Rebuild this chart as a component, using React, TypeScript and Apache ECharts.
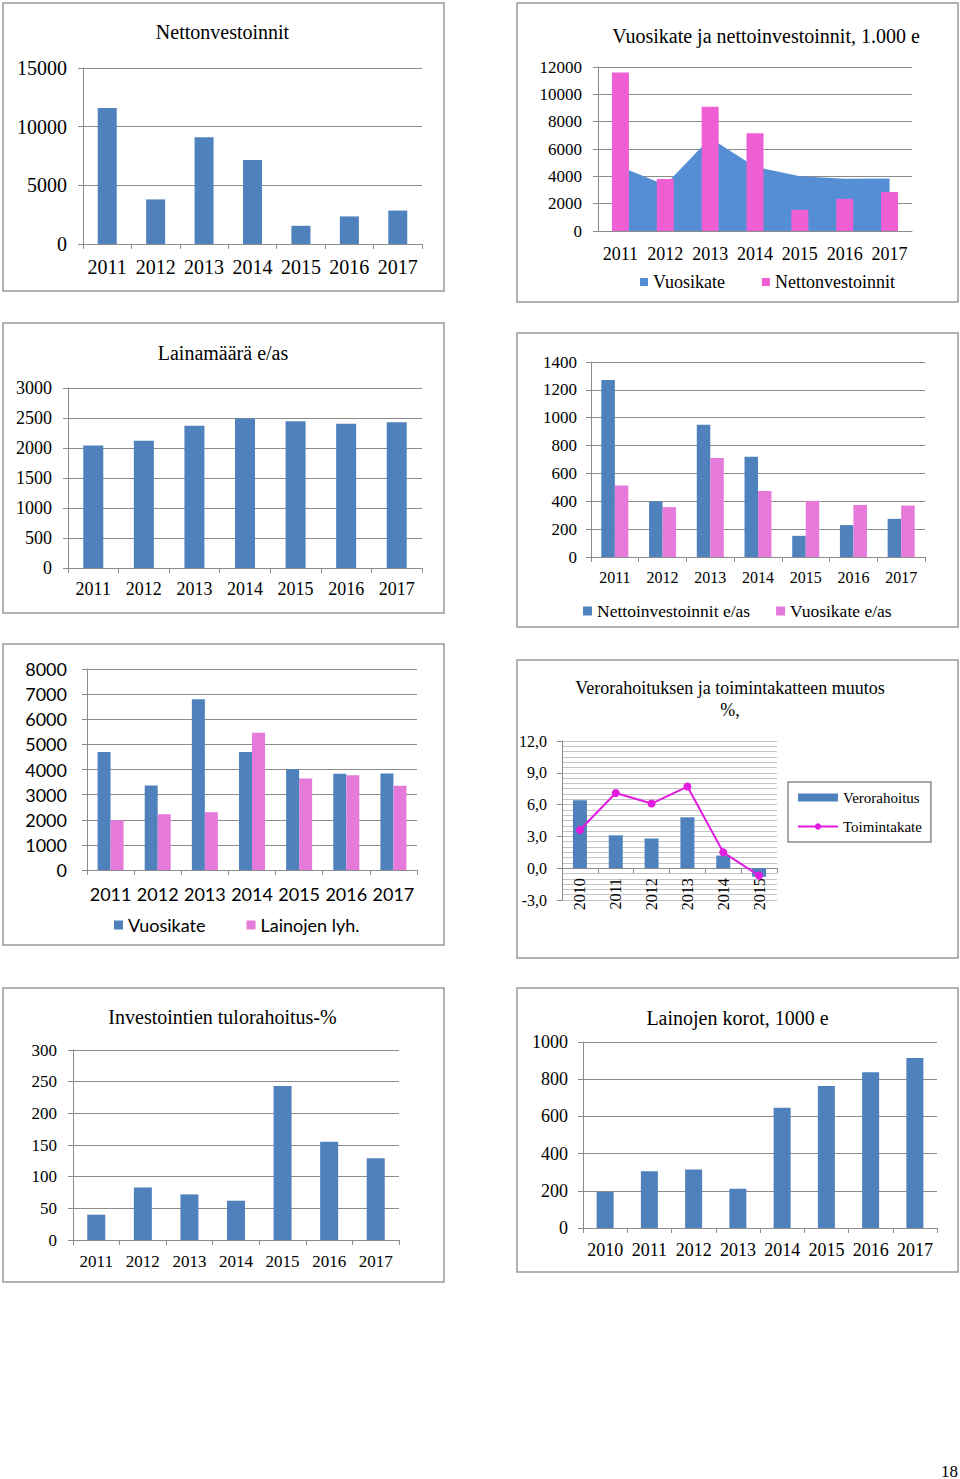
import React, { useEffect, useRef } from "react";
import * as echarts from "echarts";

// ---------- DATA ----------
const years7 = ["2011", "2012", "2013", "2014", "2015", "2016", "2017"];
const years8 = ["2010", "2011", "2012", "2013", "2014", "2015", "2016", "2017"];
const years6 = ["2010", "2011", "2012", "2013", "2014", "2015"];

const nettoinvestoinnit = [11600, 3800, 9100, 7150, 1550, 2350, 2850];
const vuosikate = [4700, 3360, 6800, 4700, 4010, 3830, 3840];
const lainamaara = [2040, 2120, 2370, 2490, 2445, 2405, 2430];
const nettoinvEas = [1270, 400, 950, 720, 152, 229, 274];
const vuosikateEas = [513, 358, 710, 474, 403, 374, 369];
const lainojenLyh = [1980, 2220, 2300, 5460, 3640, 3775, 3350];
const verorahoitus = [6.4, 3.1, 2.8, 4.8, 1.2, -0.8];
const toimintakate = [3.6, 7.1, 6.1, 7.7, 1.5, -0.7];
const tulorahoitus = [40, 83, 72, 62, 243, 155, 129];
const lainojenKorot = [194, 305, 315, 211, 647, 763, 837, 914];

const titles = {
  c1: "Nettonvestoinnit",
  c2: "Vuosikate ja nettoinvestoinnit, 1.000 e",
  c3: "Lainamäärä e/as",
  c6a: "Verorahoituksen ja toimintakatteen muutos",
  c6b: "%,",
  c7: "Investointien tulorahoitus-%",
  c8: "Lainojen korot, 1000 e",
};
const pageNumber = "18";

// ---------- STYLE ----------
const SERIF = '"Liberation Serif", "Times New Roman", serif';
const SANS = 'Lato, "Open Sans", sans-serif';
const BLUE = "#4F81BD";
const AREA = "#558ED5";
const PINK2 = "#EF5FD4";
const PINK = "#E57ADB";
const MAGENTA = "#E21CE0";
const GRID_C = "#8c8c8c";
const GRID_L = "#c4c4c4";
const BORDER = "#9a9a9a";

const stripName = (n: string) => n.replace(/ \(\d\)$/, "");
const plain = (v: number) => String(v);

function valAxis(gi: number, min: number, max: number, interval: number, fontSize: number, margin: number, family = SERIF, extra: any = {}) {
  return {
    type: "value",
    gridIndex: gi,
    min,
    max,
    interval,
    axisLine: { show: true, lineStyle: { color: GRID_C, width: 1 } },
    axisTick: { show: true, length: 5, lineStyle: { color: GRID_C } },
    splitLine: { show: true, lineStyle: { color: GRID_C, width: 1 } },
    axisLabel: { fontSize, fontFamily: family, color: "#000", margin, formatter: plain },
    ...extra,
  };
}

function catAxis(gi: number, data: string[], fontSize: number, margin: number, family = SERIF, extra: any = {}) {
  return {
    type: "category",
    gridIndex: gi,
    data,
    boundaryGap: true,
    axisLine: { show: true, lineStyle: { color: GRID_C, width: 1 } },
    axisTick: { show: true, length: 5, alignWithLabel: false, lineStyle: { color: GRID_C } },
    splitLine: { show: false },
    axisLabel: { fontSize, fontFamily: family, color: "#000", margin, interval: 0 },
    ...extra,
  };
}

function box(x: number, y: number, w: number, h: number) {
  return {
    type: "rect",
    silent: true,
    z: -10,
    shape: { x, y, width: w, height: h },
    style: { fill: "#fff", stroke: BORDER, lineWidth: 1.5 },
  };
}

function label(text: string, x: number, y: number, size: number, family = SERIF) {
  return {
    type: "text",
    silent: true,
    x,
    y,
    style: {
      text,
      fill: "#000",
      font: `${size}px ${family}`,
      align: "center",
      verticalAlign: "middle",
    },
  };
}

// chart 6 grid: value axis -3..12 over 159px height, x axis sits at value 0
const G6_HEIGHT = 159;
const G6_MIN = -3;
const G6_MAX = 12;
const G6_ZERO_OFFSET = -(G6_HEIGHT * (0 - G6_MIN)) / (G6_MAX - G6_MIN);

export default function App() {
  const ref = useRef<HTMLDivElement>(null);

  useEffect(() => {
    if (!ref.current) return;
    const chart = echarts.init(ref.current, undefined, { renderer: "svg" });

    const option: any = {
      animation: false,
      backgroundColor: "#fff",
      grid: [
        { left: 83, top: 68, width: 339, height: 176 },
        { left: 598, top: 67, width: 314, height: 164 },
        { left: 68, top: 388, width: 354, height: 180 },
        { left: 591, top: 362, width: 334, height: 195 },
        { left: 87, top: 669, width: 330, height: 201 },
        { left: 562, top: 741, width: 215, height: G6_HEIGHT },
        { left: 73, top: 1050, width: 326, height: 190 },
        { left: 583, top: 1042, width: 354, height: 186 },
      ],
      xAxis: [
        catAxis(0, years7, 20, 13),
        catAxis(1, years7, 18, 14, SERIF, { axisTick: { show: false } }),
        catAxis(2, years7, 18, 12),
        catAxis(3, years7, 16, 12),
        catAxis(4, years7, 18, 15, SANS),
        catAxis(5, years6, 16, 10, SERIF, {
          offset: G6_ZERO_OFFSET,
          axisLine: { show: true, onZero: false, lineStyle: { color: GRID_C, width: 1 } },
          axisLabel: { fontSize: 16, fontFamily: SERIF, color: "#000", margin: 10, rotate: 90, interval: 0 },
        }),
        catAxis(6, years7, 17, 13),
        catAxis(7, years8, 18, 13),
      ],
      yAxis: [
        valAxis(0, 0, 15000, 5000, 20, 16),
        valAxis(1, 0, 12000, 2000, 17, 16),
        valAxis(2, 0, 3000, 500, 18, 16),
        valAxis(3, 0, 1400, 200, 17, 14),
        valAxis(4, 0, 8000, 1000, 18, 20, SANS),
        valAxis(5, G6_MIN, G6_MAX, 3, 16, 15, SERIF, {
          splitLine: { show: true, lineStyle: { color: GRID_L, width: 1 } },
          minorTick: { show: false, splitNumber: 6 },
          minorSplitLine: { show: true, lineStyle: { color: GRID_L, width: 1 } },
          axisLabel: {
            fontSize: 16,
            fontFamily: SERIF,
            color: "#000",
            margin: 15,
            formatter: (v: number) => v.toFixed(1).replace(".", ","),
          },
        }),
        valAxis(6, 0, 300, 50, 17, 16),
        valAxis(7, 0, 1000, 200, 18, 15),
      ],
      legend: [
        {
          left: 640,
          top: 273,
          itemWidth: 8,
          itemHeight: 8,
          itemGap: 37,
          padding: 0,
          data: [
            { name: "Vuosikate (2)", icon: "rect" },
            { name: "Nettonvestoinnit (2)", icon: "rect" },
          ],
          formatter: stripName,
          textStyle: { fontSize: 18, fontFamily: SERIF, color: "#000" },
        },
        {
          left: 583,
          top: 602,
          itemWidth: 9,
          itemHeight: 9,
          itemGap: 26,
          padding: 0,
          data: [
            { name: "Nettoinvestoinnit e/as", icon: "rect" },
            { name: "Vuosikate e/as", icon: "rect" },
          ],
          textStyle: { fontSize: 17.5, fontFamily: SERIF, color: "#000" },
        },
        {
          left: 114,
          top: 916,
          itemWidth: 9,
          itemHeight: 9,
          itemGap: 41,
          padding: 0,
          data: [
            { name: "Vuosikate (5)", icon: "rect" },
            { name: "Lainojen lyh.", icon: "rect" },
          ],
          formatter: stripName,
          textStyle: { fontSize: 18, fontFamily: SANS, color: "#000" },
        },
        {
          left: 788,
          top: 782,
          orient: "vertical",
          padding: [8, 9, 8, 9],
          borderColor: GRID_C,
          borderWidth: 1.5,
          itemWidth: 40,
          itemHeight: 8,
          itemGap: 14,
          data: [{ name: "Verorahoitus", icon: "rect" }, { name: "Toimintakate" }],
          textStyle: { fontSize: 15, fontFamily: SERIF, color: "#000" },
        },
      ],
      series: [
        {
          type: "bar",
          name: "Nettonvestoinnit (1)",
          xAxisIndex: 0,
          yAxisIndex: 0,
          data: nettoinvestoinnit,
          barWidth: 19,
          itemStyle: { color: BLUE },
        },
        {
          type: "line",
          name: "Vuosikate (2)",
          xAxisIndex: 1,
          yAxisIndex: 1,
          data: vuosikate,
          symbol: "none",
          z: 1,
          lineStyle: { width: 0, color: AREA },
          itemStyle: { color: AREA },
          areaStyle: { color: AREA, opacity: 1 },
        },
        {
          type: "bar",
          name: "Nettonvestoinnit (2)",
          xAxisIndex: 1,
          yAxisIndex: 1,
          data: nettoinvestoinnit,
          barWidth: 17,
          z: 3,
          itemStyle: { color: PINK2 },
        },
        {
          type: "bar",
          name: "Lainamäärä (3)",
          xAxisIndex: 2,
          yAxisIndex: 2,
          data: lainamaara,
          barWidth: 20,
          itemStyle: { color: BLUE },
        },
        {
          type: "bar",
          name: "Nettoinvestoinnit e/as",
          xAxisIndex: 3,
          yAxisIndex: 3,
          data: nettoinvEas,
          barWidth: 13.5,
          barGap: "0%",
          itemStyle: { color: BLUE },
        },
        {
          type: "bar",
          name: "Vuosikate e/as",
          xAxisIndex: 3,
          yAxisIndex: 3,
          data: vuosikateEas,
          barWidth: 13.5,
          barGap: "0%",
          itemStyle: { color: PINK },
        },
        {
          type: "bar",
          name: "Vuosikate (5)",
          xAxisIndex: 4,
          yAxisIndex: 4,
          data: vuosikate,
          barWidth: 13,
          barGap: "0%",
          itemStyle: { color: BLUE },
        },
        {
          type: "bar",
          name: "Lainojen lyh.",
          xAxisIndex: 4,
          yAxisIndex: 4,
          data: lainojenLyh,
          barWidth: 13,
          barGap: "0%",
          itemStyle: { color: PINK },
        },
        {
          type: "bar",
          name: "Verorahoitus",
          xAxisIndex: 5,
          yAxisIndex: 5,
          data: verorahoitus,
          barWidth: 14,
          itemStyle: { color: BLUE },
        },
        {
          type: "line",
          name: "Toimintakate",
          xAxisIndex: 5,
          yAxisIndex: 5,
          data: toimintakate,
          symbol: "circle",
          symbolSize: 8,
          z: 4,
          lineStyle: { color: MAGENTA, width: 2 },
          itemStyle: { color: MAGENTA },
        },
        {
          type: "bar",
          name: "Investointien tulorahoitus-% (7)",
          xAxisIndex: 6,
          yAxisIndex: 6,
          data: tulorahoitus,
          barWidth: 18,
          itemStyle: { color: BLUE },
        },
        {
          type: "bar",
          name: "Lainojen korot (8)",
          xAxisIndex: 7,
          yAxisIndex: 7,
          data: lainojenKorot,
          barWidth: 17,
          itemStyle: { color: BLUE },
        },
      ],
      graphic: [
        box(3, 3, 441, 288),
        box(517, 3, 441, 299),
        box(3, 323, 441, 290),
        box(517, 333, 441, 294),
        box(3, 644, 441, 301),
        box(517, 660, 441, 298),
        box(3, 988, 441, 294),
        box(517, 988, 441, 284),
        label(titles.c1, 222.5, 32, 20),
        label(titles.c2, 766, 36, 20),
        label(titles.c3, 223, 352.5, 20),
        label(titles.c6a, 730, 688, 18),
        label(titles.c6b, 730, 710, 18),
        label(titles.c7, 222.5, 1017, 20),
        label(titles.c8, 737.5, 1018, 20),
        label(pageNumber, 949.5, 1471, 17),
      ],
    };

    chart.setOption(option);
    return () => chart.dispose();
  }, []);

  return (
    <div
      ref={ref}
      style={{ position: "absolute", left: 0, top: 0, width: 960, height: 1479, background: "#fff" }}
    />
  );
}
